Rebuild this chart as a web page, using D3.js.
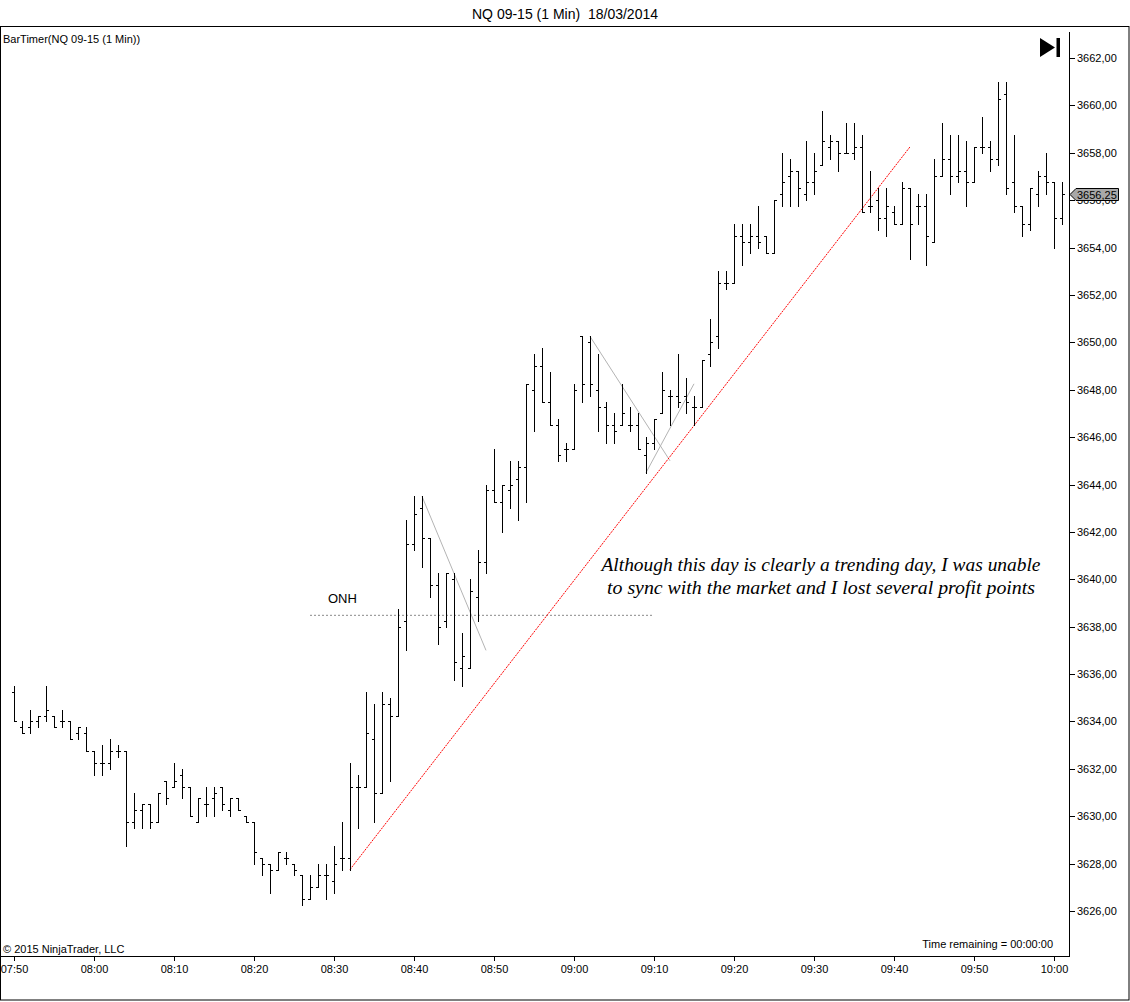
<!DOCTYPE html>
<html>
<head>
<meta charset="utf-8">
<script src="https://cdn.jsdelivr.net/npm/d3@7"></script>
<style>
  body { margin: 0; background: #fff; }
  svg { display: block; font-family: "Liberation Sans", Arial, sans-serif; }
</style>
</head>
<body>
<div id="chart"></div>
<script>
// 1. DATA  (NQ 09-15, 1 min bars from 07:50)
const startTime = new Date(2014, 2, 18, 7, 50);

const opens = [
  3635.25, 3633.75, 3633.75, 3634.0, 3634.25, 3634.25, 3634.0, 3634.0, 3633.5, 3633.5,
  3632.75, 3632.25, 3632.25, 3632.75, 3632.75, 3629.75, 3630.25, 3630.5, 3629.75, 3631.5,
  3631.25, 3631.75, 3631.25, 3629.75, 3630.5, 3630.75, 3631.25, 3630.25, 3630.75, 3630.0,
  3629.75, 3628.25, 3628.0, 3627.75, 3628.25, 3628.0, 3627.5, 3626.5, 3627.0, 3627.5,
  3627.25, 3628.25, 3628.25, 3631.25, 3631.25, 3633.25, 3631.0, 3634.75, 3634.25, 3638.25,
  3641.5, 3643.0, 3641.75, 3639.75, 3638.25, 3640.0, 3636.25, 3636.25, 3639.25, 3640.75,
  3643.75, 3643.25, 3643.75, 3644.25, 3644.75, 3648.0, 3649.0, 3647.5, 3646.5, 3645.5,
  3645.5, 3650.25, 3650.0, 3648.0, 3647.25, 3646.5, 3646.5, 3646.5, 3646.5, 3645.25,
  3645.75, 3647.0, 3647.75, 3647.75, 3647.75, 3647.25, 3647.25, 3649.5, 3650.25, 3652.5,
  3652.5, 3654.5, 3654.25, 3654.5, 3654.5, 3653.75, 3656.25, 3657.0, 3657.25, 3656.25,
  3656.75, 3657.5, 3658.25, 3658.5, 3658.0, 3658.0, 3658.25, 3655.75, 3656.0, 3655.25,
  3655.5, 3655.0, 3656.5, 3655.75, 3655.75, 3654.25, 3657.0, 3657.75, 3657.0, 3657.25,
  3656.75, 3658.25, 3658.25, 3657.75, 3660.5, 3656.75, 3655.75, 3655.0, 3656.25, 3657.0,
  3656.75, 3655.25
];
const highs = [
  3635.5, 3634.0, 3634.5, 3634.25, 3635.5, 3634.25, 3634.5, 3634.0, 3633.75, 3633.75,
  3632.75, 3633.0, 3633.25, 3633.0, 3632.75, 3631.0, 3630.5, 3630.5, 3631.0, 3631.5,
  3632.25, 3632.0, 3631.25, 3630.75, 3631.25, 3631.25, 3631.25, 3630.75, 3630.75, 3630.0,
  3629.75, 3628.25, 3628.0, 3628.5, 3628.5, 3628.0, 3627.5, 3627.5, 3628.0, 3628.0,
  3628.75, 3629.75, 3632.25, 3631.75, 3635.25, 3634.75, 3635.25, 3635.0, 3638.75, 3642.5,
  3643.5, 3643.5, 3641.75, 3640.25, 3640.25, 3640.25, 3637.75, 3640.0, 3641.25, 3644.0,
  3645.5, 3644.0, 3645.0, 3645.0, 3648.25, 3649.5, 3649.75, 3648.75, 3646.75, 3645.75,
  3648.25, 3650.25, 3650.25, 3649.5, 3647.5, 3647.0, 3648.25, 3647.25, 3647.0, 3646.0,
  3646.75, 3648.75, 3648.0, 3649.5, 3648.5, 3647.75, 3649.25, 3651.0, 3653.0, 3653.0,
  3655.0, 3655.0, 3655.0, 3655.75, 3654.5, 3656.0, 3658.0, 3657.75, 3657.25, 3658.5,
  3658.0, 3659.75, 3658.75, 3658.5, 3659.25, 3659.25, 3658.75, 3657.25, 3656.5, 3656.5,
  3655.75, 3656.75, 3656.5, 3656.25, 3656.25, 3657.75, 3659.25, 3658.75, 3658.75, 3658.5,
  3658.25, 3659.5, 3658.5, 3661.0, 3661.0, 3658.75, 3655.75, 3656.5, 3657.25, 3658.0,
  3656.75, 3656.75
];
const lows = [
  3634.0, 3633.5, 3633.5, 3633.75, 3634.0, 3633.75, 3633.75, 3633.25, 3633.25, 3632.75,
  3631.75, 3631.75, 3632.0, 3632.5, 3628.75, 3629.5, 3629.5, 3629.5, 3629.75, 3630.5,
  3631.25, 3630.75, 3630.0, 3629.75, 3630.0, 3630.0, 3630.25, 3630.0, 3630.25, 3629.75,
  3628.0, 3627.5, 3626.75, 3627.75, 3628.0, 3627.5, 3626.25, 3626.5, 3627.0, 3626.5,
  3626.75, 3627.75, 3627.75, 3629.5, 3631.25, 3629.75, 3631.0, 3631.5, 3634.25, 3637.0,
  3641.25, 3640.5, 3639.25, 3637.25, 3638.0, 3635.75, 3635.5, 3636.25, 3638.25, 3640.25,
  3643.25, 3642.0, 3643.0, 3642.5, 3643.25, 3646.25, 3647.5, 3646.5, 3645.0, 3645.0,
  3645.5, 3647.5, 3647.75, 3646.25, 3645.75, 3645.75, 3646.5, 3646.25, 3645.5, 3644.5,
  3645.5, 3647.0, 3646.5, 3647.25, 3647.0, 3646.5, 3647.25, 3649.0, 3649.75, 3652.25,
  3652.5, 3653.25, 3653.75, 3654.0, 3653.75, 3653.75, 3655.75, 3655.75, 3655.75, 3656.0,
  3656.25, 3657.5, 3657.75, 3657.25, 3658.0, 3657.75, 3655.5, 3655.5, 3654.75, 3654.5,
  3655.0, 3655.0, 3653.5, 3655.0, 3653.25, 3654.25, 3657.0, 3656.25, 3656.75, 3655.75,
  3656.75, 3658.0, 3657.25, 3657.5, 3656.25, 3655.5, 3654.5, 3654.75, 3655.75, 3656.25,
  3654.0, 3655.0
];
const closes = [
  3634.0, 3633.5, 3634.0, 3634.25, 3634.5, 3633.75, 3634.0, 3633.25, 3633.75, 3632.75,
  3632.25, 3632.25, 3632.75, 3632.75, 3629.75, 3630.25, 3630.5, 3629.75, 3631.0, 3630.75,
  3631.5, 3631.25, 3630.0, 3630.75, 3630.5, 3631.0, 3630.5, 3630.75, 3630.25, 3629.75,
  3628.5, 3628.0, 3627.75, 3628.5, 3628.25, 3627.75, 3626.5, 3627.0, 3627.5, 3627.5,
  3628.0, 3628.25, 3631.25, 3631.25, 3633.5, 3631.0, 3634.75, 3634.25, 3638.0, 3641.5,
  3642.75, 3641.75, 3639.75, 3638.0, 3640.25, 3636.5, 3636.75, 3639.5, 3640.75, 3643.75,
  3643.25, 3644.0, 3644.0, 3644.75, 3648.25, 3649.0, 3647.5, 3646.5, 3645.25, 3645.5,
  3648.0, 3648.25, 3648.25, 3647.25, 3646.5, 3646.25, 3647.0, 3646.5, 3645.5, 3645.75,
  3646.75, 3648.0, 3647.75, 3647.5, 3647.5, 3647.25, 3649.25, 3650.0, 3652.5, 3652.5,
  3654.5, 3654.25, 3654.5, 3654.25, 3653.75, 3656.0, 3656.75, 3657.25, 3656.5, 3656.75,
  3657.25, 3658.5, 3658.5, 3658.0, 3658.0, 3658.25, 3655.5, 3655.75, 3655.25, 3655.75,
  3655.0, 3656.5, 3655.0, 3655.75, 3654.5, 3657.0, 3657.75, 3657.0, 3657.25, 3656.75,
  3658.25, 3658.25, 3657.75, 3660.25, 3656.5, 3655.75, 3655.0, 3656.5, 3657.0, 3656.75,
  3655.25, 3656.25
];

const priceTicks = d3.range(3626, 3663, 2);
const lastPrice = 3656.25;

// drawn objects: [bar index, price]
const trendLine = [[42, 3627.75], [112, 3658.25]];
const greyLines = [
  [[51, 3643.5], [59, 3637.0]],
  [[72, 3650.25], [82, 3645.0]],
  [[79, 3644.5], [85, 3648.25]]
];
const onhLine = [[37, 3638.5], [80, 3638.5]];

const titleText = "NQ 09-15 (1 Min)  18/03/2014";
const noteLines = [
  "Although this day is clearly a trending day, I was unable",
  "to sync with the market and I lost several profit points"
];

// 2. SETUP
const W = 1130, H = 1002;
const plotRight = 1069, plotBottom = 956, plotTop = 32;

const barTime = i => d3.timeMinute.offset(startTime, i);
const bars = opens.map((o, i) => ({ t: barTime(i), o, h: highs[i], l: lows[i], c: closes[i] }));

const x = d3.scaleTime()
  .domain([startTime, barTime(opens.length - 1)])
  .range([14, 14 + 8 * (opens.length - 1)]);
const y = d3.scaleLinear().domain([3626, 3662]).range([911, 58]);

const locale = d3.formatLocale({ decimal: ",", thousands: ".", grouping: [3], currency: ["", ""] });
const fmtPrice = locale.format(".2f");

const svg = d3.select("#chart").append("svg")
  .attr("width", W)
  .attr("height", H);

svg.append("rect").attr("width", W).attr("height", H).attr("fill", "#fff");

// title
svg.append("text")
  .attr("x", 565).attr("y", 19)
  .attr("text-anchor", "middle")
  .style("font-size", "14px")
  .style("white-space", "pre")
  .text(titleText);

// frame
svg.append("rect")
  .attr("x", 0.5).attr("y", 26.5)
  .attr("width", 1128.5).attr("height", 973.5)
  .attr("fill", "none").attr("stroke", "#000");

// 3. AXES
const yAxis = d3.axisRight(y)
  .tickValues(priceTicks)
  .tickSize(6)
  .tickPadding(2)
  .tickFormat(fmtPrice);

const gy = svg.append("g")
  .attr("transform", `translate(${plotRight},0)`)
  .call(yAxis);
gy.select(".domain").remove();
gy.selectAll("text").style("font-size", "11px").attr("fill", "#000");
gy.selectAll("line").attr("stroke", "#000").attr("shape-rendering", "crispEdges");

const xAxis = d3.axisBottom(x)
  .ticks(d3.timeMinute.every(10))
  .tickSize(5)
  .tickPadding(4)
  .tickFormat(d3.timeFormat("%H:%M"));

const gx = svg.append("g")
  .attr("transform", `translate(0,${plotBottom})`)
  .call(xAxis);
gx.select(".domain").remove();
gx.selectAll("text").style("font-size", "11px").attr("fill", "#000");
gx.selectAll("line").attr("stroke", "#000").attr("shape-rendering", "crispEdges");

// plot edges
svg.append("line")
  .attr("x1", plotRight + 0.5).attr("x2", plotRight + 0.5)
  .attr("y1", plotTop).attr("y2", plotBottom)
  .attr("stroke", "#000");
svg.append("line")
  .attr("x1", 0).attr("x2", plotRight + 1)
  .attr("y1", plotBottom + 0.5).attr("y2", plotBottom + 0.5)
  .attr("stroke", "#000");

// 4. DRAWINGS
const pt = d => [x(barTime(d[0])), y(d[1])];

svg.append("line")
  .attr("x1", pt(onhLine[0])[0]).attr("y1", pt(onhLine[0])[1] + 0.5)
  .attr("x2", pt(onhLine[1])[0]).attr("y2", pt(onhLine[1])[1] + 0.5)
  .attr("stroke", "#8a8a8a")
  .attr("stroke-dasharray", "2,2");

svg.append("text")
  .attr("x", 328).attr("y", 603)
  .style("font-size", "13px")
  .text("ONH");

svg.selectAll("line.grey")
  .data(greyLines)
  .join("line")
  .attr("class", "grey")
  .attr("x1", d => pt(d[0])[0]).attr("y1", d => pt(d[0])[1])
  .attr("x2", d => pt(d[1])[0]).attr("y2", d => pt(d[1])[1])
  .attr("stroke", "#b4b4b4")
  .attr("stroke-width", 1);

svg.append("line")
  .attr("x1", pt(trendLine[0])[0]).attr("y1", pt(trendLine[0])[1])
  .attr("x2", pt(trendLine[1])[0]).attr("y2", pt(trendLine[1])[1])
  .attr("stroke", "#ff0000")
  .attr("stroke-width", 1)
  .attr("stroke-dasharray", "2,1");

// 5. OHLC BARS
const gBars = svg.append("g").attr("shape-rendering", "crispEdges");
const bx = d => Math.round(x(d.t));

gBars.selectAll("rect.hl")
  .data(bars)
  .join("rect")
  .attr("class", "hl")
  .attr("x", d => bx(d))
  .attr("width", 1)
  .attr("y", d => Math.round(y(d.h)))
  .attr("height", d => Math.round(y(d.l)) - Math.round(y(d.h)) + 1)
  .attr("fill", "#000");

gBars.selectAll("rect.op")
  .data(bars)
  .join("rect")
  .attr("class", "op")
  .attr("x", d => bx(d) - 2)
  .attr("width", 2)
  .attr("y", d => Math.round(y(d.o)))
  .attr("height", 1)
  .attr("fill", "#000");

gBars.selectAll("rect.cl")
  .data(bars)
  .join("rect")
  .attr("class", "cl")
  .attr("x", d => bx(d) + 1)
  .attr("width", 2)
  .attr("y", d => Math.round(y(d.c)))
  .attr("height", 1)
  .attr("fill", "#000");

// 6. TEXTS
svg.append("text")
  .attr("x", 3).attr("y", 43)
  .style("font-size", "11px")
  .text("BarTimer(NQ 09-15 (1 Min))");

svg.append("text")
  .attr("x", 3).attr("y", 953)
  .style("font-size", "11px")
  .text("© 2015 NinjaTrader, LLC");

svg.append("text")
  .attr("x", 1053).attr("y", 948)
  .attr("text-anchor", "end")
  .style("font-size", "11px")
  .text("Time remaining = 00:00:00");

const noteW = [439, 428];
svg.selectAll("text.note")
  .data(noteLines)
  .join("text")
  .attr("class", "note")
  .attr("x", 821)
  .attr("y", (d, i) => 571 + i * 22.5)
  .attr("text-anchor", "middle")
  .attr("textLength", (d, i) => noteW[i])
  .attr("lengthAdjust", "spacingAndGlyphs")
  .style("font-family", "'Liberation Serif', 'DejaVu Serif', serif")
  .style("font-style", "italic")
  .style("font-size", "18px")
  .attr("fill", "#000")
  .text(d => d);

// go-to-end icon
svg.append("path")
  .attr("d", "M1040,38 L1055,47.5 L1040,57 Z")
  .attr("fill", "#000");
svg.append("rect")
  .attr("x", 1056.5).attr("y", 38)
  .attr("width", 3.5).attr("height", 19)
  .attr("fill", "#000");

// last price marker
const yl = Math.round(y(lastPrice));
svg.append("path")
  .attr("d", `M${plotRight + 1},${yl + 0.5} L${plotRight + 7},${yl - 5.5} L1118.5,${yl - 5.5} L1118.5,${yl + 6.5} L${plotRight + 7},${yl + 6.5} Z`)
  .attr("fill", "#a8a8a8")
  .attr("stroke", "#000")
  .attr("stroke-width", 1);
svg.append("text")
  .attr("x", 1077).attr("y", yl + 4.5)
  .style("font-size", "11px")
  .text(fmtPrice(lastPrice));
</script>
</body>
</html>
